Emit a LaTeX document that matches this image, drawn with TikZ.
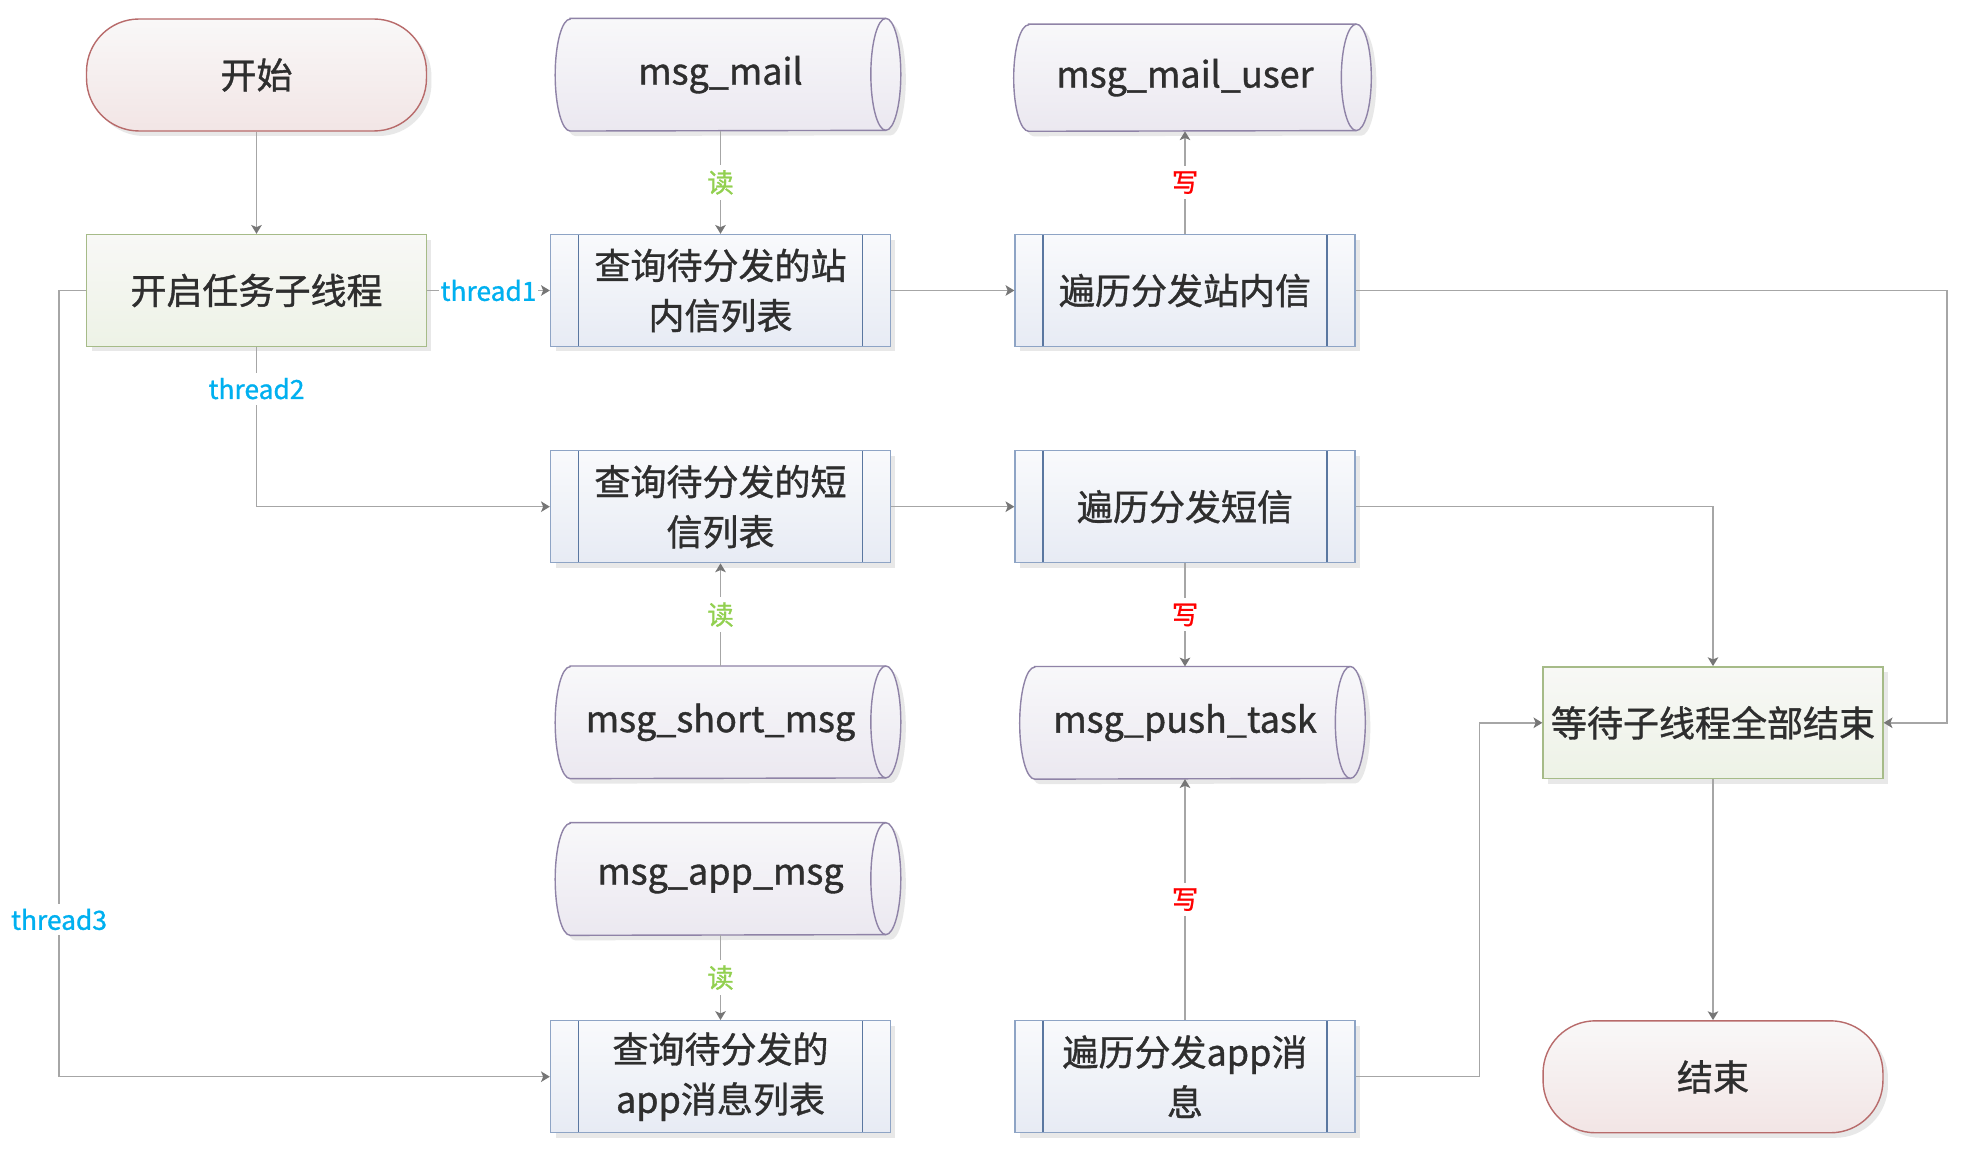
\documentclass[tikz,border=0pt]{standalone}
\usepackage{fontspec}
\setmainfont{Noto Sans CJK SC}
\newfontfamily\boxfont{Noto Sans CJK SC}[FakeBold=1]
\usetikzlibrary{arrows.meta,shadows,backgrounds}

\definecolor{txtgrey}{HTML}{2E2E2E}
\definecolor{linegrey}{HTML}{A6A6A6}
\definecolor{tipgrey}{HTML}{767676}
\definecolor{shadowgrey}{HTML}{E8E8E8}
\definecolor{termline}{HTML}{B86B6B}
\definecolor{termtop}{HTML}{F9F8F8}
\definecolor{termbot}{HTML}{F2E5E5}
\definecolor{procline}{HTML}{8EA4C5}
\definecolor{procinner}{HTML}{5A77A0}
\definecolor{proctop}{HTML}{F9FAFC}
\definecolor{procbot}{HTML}{E7EBF4}
\definecolor{workline}{HTML}{A6BB88}
\definecolor{worktop}{HTML}{F8F8F6}
\definecolor{workbot}{HTML}{EDF2E6}
\definecolor{drumline}{HTML}{8F83A7}
\definecolor{drumtop}{HTML}{F8F8FA}
\definecolor{drumbot}{HTML}{EBE8F0}
\definecolor{readgreen}{HTML}{92D050}
\definecolor{writered}{HTML}{FF0000}
\definecolor{threadblue}{HTML}{00B0F0}

\newcommand\drumback[2]{%
  \fill[shadowgrey, transform canvas={xshift=0.1cm, yshift=-0.1cm}]
    (#1.north west) -- ([xshift=0.3cm]#1.north east)
    arc[start angle=90, end angle=-90, x radius=0.3cm, y radius=#2]
    -- (#1.south west)
    arc[start angle=270, end angle=90, x radius=0.3cm, y radius=#2] -- cycle;
  \draw[draw=drumline, line width=0.8pt, top color=drumtop, bottom color=drumbot]
    (#1.north west) -- ([xshift=0.3cm]#1.north east)
    arc[start angle=90, end angle=-90, x radius=0.3cm, y radius=#2]
    -- (#1.south west)
    arc[start angle=270, end angle=90, x radius=0.3cm, y radius=#2] -- cycle;
  \draw[drumline, line width=0.8pt]
    ([xshift=0.3cm]#1.north east) arc[start angle=90, end angle=270, x radius=0.3cm, y radius=#2];
}

\begin{document}
\begin{tikzpicture}[
  x = 0.02cm, y = -0.02cm,
  box/.style = {minimum width = 6.8cm, minimum height = 2.24cm, inner sep = 0pt, align = center,
                line width = 0.8pt, text = txtgrey, font = \boxfont\fontsize{20.5}{28.5}\selectfont,
                drop shadow = {shadow xshift = 0.1cm, shadow yshift = -0.1cm, fill = shadowgrey, opacity = 1}},
  term/.style = {box, rounded corners = 1.05cm, draw = termline, top color = termtop, bottom color = termbot},
  work/.style = {box, draw = workline, top color = worktop, bottom color = workbot},
  proc/.style = {box, draw = procline, top color = proctop, bottom color = procbot,
                 path picture = {\draw[procinner, line width = 0.8pt]
                   ([xshift = 0.56cm]path picture bounding box.north west) -- ([xshift = 0.56cm]path picture bounding box.south west)
                   ([xshift = -0.56cm]path picture bounding box.north east) -- ([xshift = -0.56cm]path picture bounding box.south east);}},
  drum/.style = {minimum width = 6cm, minimum height = 2.24cm, inner sep = 0pt,
                 text = txtgrey, font = \boxfont\fontsize{20.5}{28.5}\selectfont},
  lbl/.style = {fill = white, inner xsep = 1pt, inner ysep = 3pt, font = \boxfont\fontsize{15}{16}\selectfont},
  readlbl/.style = {lbl, text = readgreen},
  writelbl/.style = {lbl, text = writered},
  threadlbl/.style = {lbl, text = threadblue},
  arr/.style = {draw = linegrey, line width = 0.8pt, -{Stealth[length = 5pt, width = 6pt, inset = 1.2pt, color = tipgrey]}}
]
  \useasboundingbox (0,0) rectangle (1972,1168);

  \node[term] (start) at (256.5,75) {开始};
  \node[work] (init) at (256.5,290.5) {开启任务子线程};
  \node[proc] (qmail) at (720.5,290.5) {查询待分发的站\\内信列表};
  \node[proc] (vmail) at (1185,290.5) {遍历分发站内信};
  \node[proc] (qsms) at (720.5,506.7) {查询待分发的短\\信列表};
  \node[proc] (vsms) at (1185,506.7) {遍历分发短信};
  \node[proc] (qapp) at (720.5,1076.7) {查询待分发的\\app消息列表};
  \node[proc] (vapp) at (1185,1076.7) {遍历分发app消\\息};
  \node[work] (wait) at (1713,722.8) {等待子线程全部结束};
  \node[term] (finish) at (1713,1076.8) {结束};

  \node[drum] (msgmail) at (720.5,74.7) {msg\_mail};
  \node[drum, minimum width = 6.24cm, minimum height = 2.13cm] (mailuser) at (1185,77.7) {msg\_mail\_user};
  \node[drum] (shortmsg) at (720.5,722.3) {msg\_short\_msg};
  \node[drum] (pushtask) at (1185,722.8) {msg\_push\_task};
  \node[drum] (appmsg) at (720.5,879) {msg\_app\_msg};

  \begin{scope}[on background layer]
    \fill[white] (0,0) rectangle (1972,1168);
    \drumback{msgmail}{1.12cm}
    \drumback{mailuser}{1.065cm}
    \drumback{shortmsg}{1.12cm}
    \drumback{pushtask}{1.12cm}
    \drumback{appmsg}{1.12cm}
  \end{scope}

  \coordinate (threadbus) at (59,290.5);
  \coordinate (rightbus) at (1947,290.5);
  \coordinate (leftbus) at (1479.4,1076.7);

  \draw[arr] (start) -- (init);
  \draw[arr] (init) -- node[threadlbl] {thread1} (qmail);
  \draw[arr] (init) |- node[threadlbl, pos = 0.13] {thread2} (qsms);
  \draw[arr] (init.west) -- (threadbus) |- node[threadlbl, pos = 0.4] {thread3} (qapp);
  \draw[arr] (msgmail) -- node[readlbl] {读} (qmail);
  \draw[arr] (vmail) -- node[writelbl] {写} (mailuser);
  \draw[arr] (qmail) -- (vmail);
  \draw[arr] (qsms) -- (vsms);
  \draw[arr] (shortmsg) -- node[readlbl] {读} (qsms);
  \draw[arr] (vsms) -- node[writelbl] {写} (pushtask);
  \draw[arr] (appmsg) -- node[readlbl] {读} (qapp);
  \draw[arr] (vapp) -- node[writelbl] {写} (pushtask);
  \draw[arr] (vmail) -- (rightbus) |- (wait);
  \draw[arr] (vsms) -| (wait);
  \draw[arr] (vapp) -- (leftbus) |- (wait);
  \draw[arr] (wait) -- (finish);
\end{tikzpicture}
\end{document}
